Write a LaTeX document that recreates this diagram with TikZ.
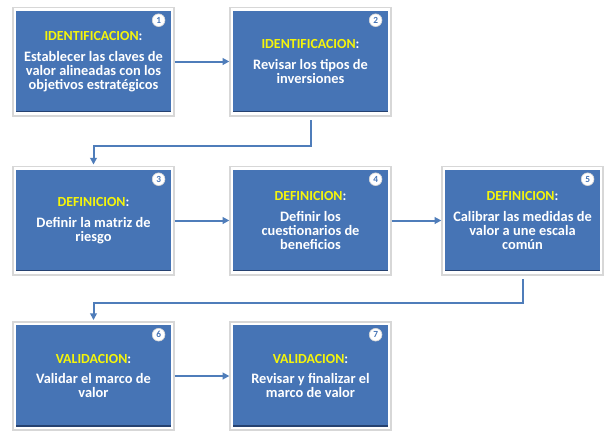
\documentclass[tikz,border=0pt]{standalone}
\usepackage{fontspec}
\setmainfont{Carlito}
\usetikzlibrary{arrows.meta,positioning}

\definecolor{boxblue}{RGB}{70,116,181}
\definecolor{boxedge}{RGB}{38,66,112}
\definecolor{linkblue}{RGB}{79,125,186}
\definecolor{titleyellow}{RGB}{245,245,10}
\definecolor{glowgray}{RGB}{215,215,215}

\tikzset{every picture/.style={line width=0.75pt}}
\tikzset{
  stepbox/.style={rectangle, minimum width=157*0.75pt, minimum height=104*0.75pt,
    inner sep=0pt, fill=boxblue, draw=white, line width=2pt,
    preaction={draw=glowgray, line width=4.5pt},
    path picture={\fill[boxedge] (path picture bounding box.south west) rectangle ([yshift=2.2pt]path picture bounding box.south east);},
    text=white, align=center, font=\fontsize{10.8}{10.6}\selectfont\bfseries},
  numdot/.style={circle, fill=white, draw=glowgray, line width=0.5pt, inner sep=0pt,
    minimum size=9.5pt, text=boxblue, font=\fontsize{7}{7}\selectfont\bfseries},
  link/.style={draw=linkblue, line width=1.5pt, -{Triangle[length=5pt,width=5pt]}},
}
\newcommand{\steptitle}[1]{{\fontsize{10.4}{10}\selectfont\color{titleyellow}#1\color{white}:}\\[5pt]}

\begin{document}
\begin{tikzpicture}[x=0.75pt,y=0.75pt,yscale=-1,xscale=1]
		\useasboundingbox (0,0) rectangle (610,430);
		\fill[white] (0,0) rectangle (610,430);
		
		% Shape: Rectangle [step 1]
		\node[stepbox] (b1) at (93.5,61.5) {\steptitle{IDENTIFICACION}Establecer las claves de\\valor alineadas con los\\objetivos estratégicos};
		% Shape: Rectangle [step 2]
		\node[stepbox] (b2) at (310.5,61.5) {\steptitle{IDENTIFICACION}Revisar los tipos de\\inversiones};
		% Shape: Rectangle [step 3]
		\node[stepbox] (b3) at (93.5,220.5) {\steptitle{DEFINICION}Definir la matriz de\\riesgo};
		% Shape: Rectangle [step 4]
		\node[stepbox] (b4) at (310.5,220.5) {\steptitle{DEFINICION}Definir los\\cuestionarios de\\beneficios};
		% Shape: Rectangle [step 5]
		\node[stepbox] (b5) at (522.5,220.5) {\steptitle{DEFINICION}Calibrar las medidas de\\valor a une escala\\común};
		% Shape: Rectangle [step 6]
		\node[stepbox] (b6) at (93.5,376) {\steptitle{VALIDACION}Validar el marco de\\valor};
		% Shape: Rectangle [step 7]
		\node[stepbox] (b7) at (310.5,376) {\steptitle{VALIDACION}Revisar y finalizar el\\marco de valor};
		
		% Number circles
		\node[numdot, below left=5.5pt and 7.5pt of b1.north east] (n1) {1};
		\node[numdot, below left=5.5pt and 7.5pt of b2.north east] (n2) {2};
		\node[numdot, below left=5.5pt and 7.5pt of b3.north east] (n3) {3};
		\node[numdot, below left=5.5pt and 7.5pt of b4.north east] (n4) {4};
		\node[numdot, below left=5.5pt and 7.5pt of b5.north east] (n5) {5};
		\node[numdot, below left=5.5pt and 7.5pt of b6.north east] (n6) {6};
		\node[numdot, below left=5.5pt and 7.5pt of b7.north east] (n7) {7};
		
		% Connectors
		\draw[link, shorten <=1pt, shorten >=1pt] (b1) -- (b2);
		\draw[link, shorten <=4pt, shorten >=2pt] (b2.south) -- ++(0,31) -| (b3.north);
		\draw[link, shorten <=1pt, shorten >=1pt] (b3) -- (b4);
		\draw[link, shorten <=1pt, shorten >=1pt] (b4) -- (b5);
		\draw[link, shorten <=4pt, shorten >=2pt] (b5.south) -- ++(0,29) -| (b6.north);
		\draw[link, shorten <=1pt, shorten >=1pt] (b6) -- (b7);
		
	\end{tikzpicture}
\end{document}
